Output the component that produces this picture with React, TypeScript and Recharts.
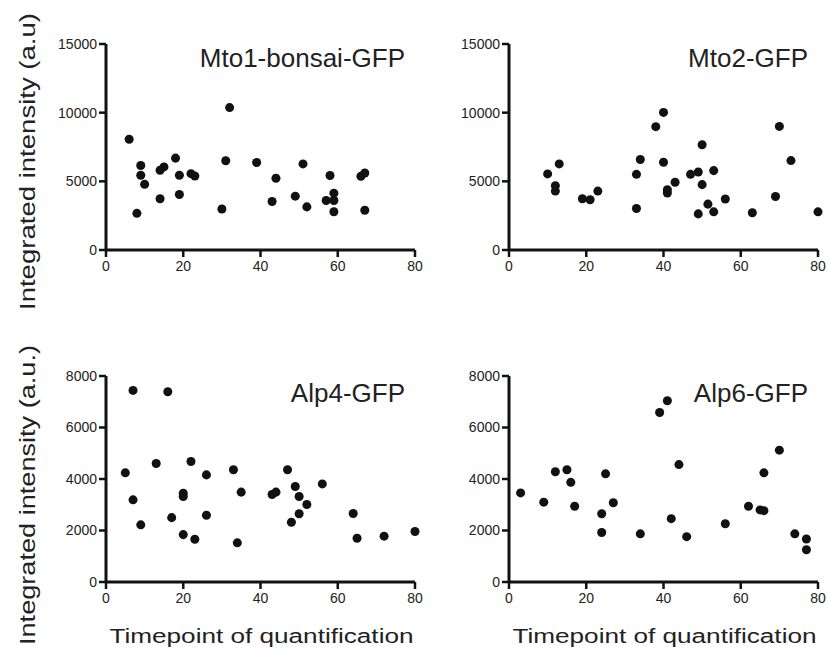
import { ScatterChart, Scatter, XAxis, YAxis, ZAxis } from 'recharts';

const xTicks = [0, 20, 40, 60, 80];
const topTicks = [0, 5000, 10000, 15000];
const bottomTicks = [0, 2000, 4000, 6000, 8000];

const mto1Time = [6, 8, 9, 9, 10, 14, 15, 14, 18, 19, 19, 22, 23, 30, 31, 32, 39, 43, 44, 49, 51, 52, 57, 58, 59, 59, 59, 66, 67, 67];
const mto1Intensity = [8060, 2670, 6150, 5440, 4780, 5810, 6050, 3730, 6690, 5440, 4040, 5560, 5390, 2990, 6500, 10370, 6370, 3530, 5220, 3920, 6270, 3140, 3600, 5420, 4140, 3600, 2790, 5370, 5610, 2890];

const mto2Time = [10, 12, 12, 13, 19, 21, 23, 33, 33, 34, 38, 40, 40, 41, 41, 43, 47, 49, 49, 50, 50, 51.5, 53, 53, 56, 63, 69, 70, 73, 80];
const mto2Intensity = [5540, 4680, 4290, 6270, 3730, 3660, 4290, 5510, 3020, 6590, 8980, 10020, 6390, 4390, 4150, 4930, 5510, 5680, 2630, 7660, 4760, 3340, 5780, 2780, 3710, 2710, 3900, 9000, 6510, 2780];

const alp4Time = [5, 7, 7, 9, 13, 16, 17, 20, 20, 20, 22, 23, 26, 26, 33, 34, 35, 43, 44, 47, 48, 49, 50, 50, 52, 56, 64, 65, 72, 80];
const alp4Intensity = [4240, 7440, 3190, 2220, 4600, 7390, 2500, 3450, 3320, 1840, 4680, 1660, 4160, 2590, 4360, 1520, 3490, 3400, 3490, 4360, 2320, 3710, 3320, 2650, 3010, 3810, 2660, 1700, 1780, 1960];

const alp6Time = [3, 9, 12, 15, 16, 17, 24, 24, 25, 27, 34, 39, 41, 42, 44, 46, 56, 62, 65, 66, 66, 70, 74, 77, 77];
const alp6Intensity = [3460, 3100, 4280, 4360, 3870, 2940, 2650, 1920, 4200, 3080, 1870, 6580, 7040, 2460, 4560, 1760, 2260, 2940, 2800, 2770, 4240, 5120, 1870, 1670, 1250];

const FONT = '"Liberation Sans", Arial, sans-serif';
const INK = '#111';
const tickStyle = { fontSize: 14, fill: '#222', fontFamily: FONT };

function toPoints(time: number[], intensity: number[]) {
  return time.map((t, i) => ({ t, v: intensity[i] }));
}

interface PanelProps {
  title: string;
  time: number[];
  intensity: number[];
  yMax: number;
  yTicks: number[];
  left: number;
  top: number;
  height: number;
  marginTop: number;
  xAxisHeight: number;
  titleY: number;
  yLabel?: string;
  yLabelLength?: number;
  yLabelY?: number;
  xLabel?: boolean;
}

function Panel(p: PanelProps) {
  const data = toPoints(p.time, p.intensity);

  const yLabel = p.yLabel
    ? () => (
        <text
          x={35}
          y={p.yLabelY}
          transform={`rotate(-90 35 ${p.yLabelY})`}
          textAnchor="middle"
          fontSize={22}
          fontFamily={FONT}
          fill="#222"
          textLength={p.yLabelLength}
          lengthAdjust="spacingAndGlyphs"
        >
          {p.yLabel}
        </text>
      )
    : undefined;

  const xLabel = p.xLabel
    ? () => (
        <text
          x={261.5}
          y={323}
          textAnchor="middle"
          fontSize={20}
          fontFamily={FONT}
          fill="#222"
          textLength={304}
          lengthAdjust="spacingAndGlyphs"
        >
          Timepoint of quantification
        </text>
      )
    : undefined;

  return (
    <div style={{ position: 'absolute', left: p.left, top: p.top }}>
      <ScatterChart width={425} height={p.height} margin={{ top: p.marginTop, right: 10, bottom: 0, left: 0 }}>
        <XAxis
          type="number"
          dataKey="t"
          domain={[0, 80]}
          ticks={xTicks}
          interval={0}
          height={p.xAxisHeight}
          tickSize={7}
          tickMargin={4}
          tick={tickStyle}
          axisLine={{ stroke: INK, strokeWidth: 3 }}
          tickLine={{ stroke: INK, strokeWidth: 2.5 }}
          label={xLabel}
        />
        <YAxis
          type="number"
          dataKey="v"
          domain={[0, p.yMax]}
          ticks={p.yTicks}
          interval={0}
          width={106}
          tickSize={7}
          tickMargin={2}
          tick={tickStyle}
          axisLine={{ stroke: INK, strokeWidth: 3 }}
          tickLine={{ stroke: INK, strokeWidth: 2.5 }}
          label={yLabel}
        />
        <ZAxis range={[56, 56]} />
        <Scatter data={data} fill={INK} isAnimationActive={false} />
        <text x={405} y={p.titleY} textAnchor="end" fontSize={26} fontFamily={FONT} fill="#222">
          {p.title}
        </text>
      </ScatterChart>
    </div>
  );
}

export default function App() {
  return (
    <div style={{ position: 'absolute', left: 0, top: 0, width: 829, height: 653, background: '#fff' }}>
      <Panel
        title="Mto1-bonsai-GFP"
        time={mto1Time}
        intensity={mto1Intensity}
        yMax={15000}
        yTicks={topTicks}
        left={0}
        top={0}
        height={330}
        marginTop={44}
        xAxisHeight={80}
        titleY={67}
        yLabel="Integrated intensity (a.u)"
        yLabelLength={297}
        yLabelY={161.5}
      />
      <Panel
        title="Mto2-GFP"
        time={mto2Time}
        intensity={mto2Intensity}
        yMax={15000}
        yTicks={topTicks}
        left={403}
        top={0}
        height={330}
        marginTop={44}
        xAxisHeight={80}
        titleY={67}
      />
      <Panel
        title="Alp4-GFP"
        time={alp4Time}
        intensity={alp4Intensity}
        yMax={8000}
        yTicks={bottomTicks}
        left={0}
        top={320}
        height={333}
        marginTop={56}
        xAxisHeight={71}
        titleY={82}
        yLabel="Integrated intensity (a.u.)"
        yLabelLength={300}
        yLabelY={175}
        xLabel
      />
      <Panel
        title="Alp6-GFP"
        time={alp6Time}
        intensity={alp6Intensity}
        yMax={8000}
        yTicks={bottomTicks}
        left={403}
        top={320}
        height={333}
        marginTop={56}
        xAxisHeight={71}
        titleY={82}
        xLabel
      />
    </div>
  );
}
